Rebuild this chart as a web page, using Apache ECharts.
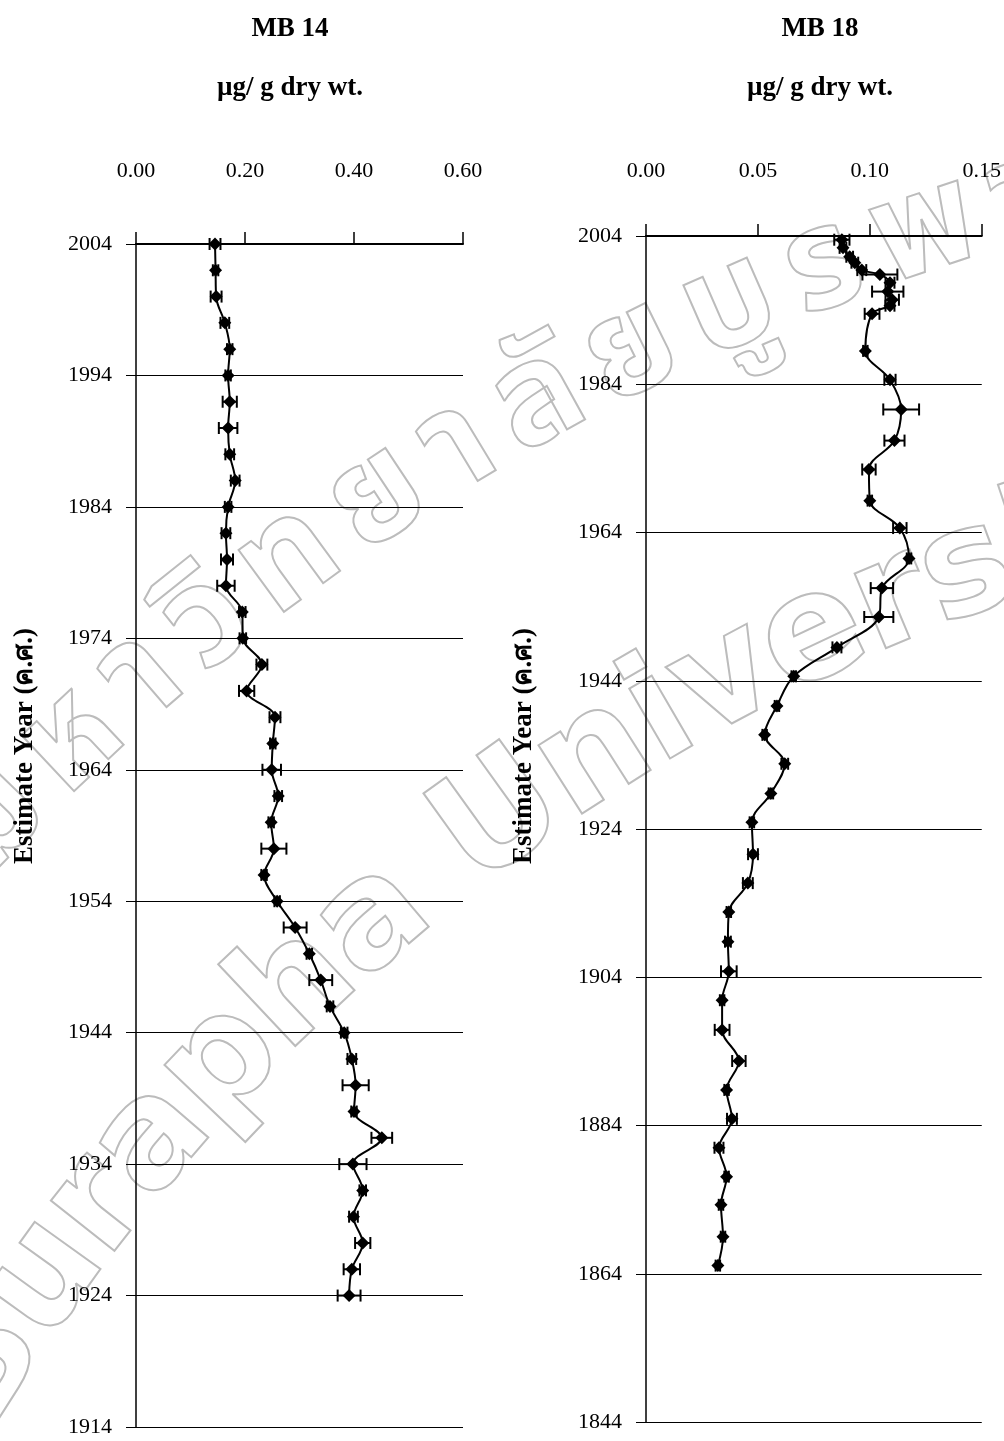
<!DOCTYPE html>
<html><head><meta charset="utf-8">
<script src="https://cdn.jsdelivr.net/npm/echarts@6/dist/echarts.min.js"></script>
<style>html,body{margin:0;padding:0;background:#fff}#c{width:1004px;height:1441px}</style>
</head><body><div id="c"></div>
<script>
// ---------- MB 14 ----------
const mb14Years = [2004,2002,2000,1998,1996,1994,1992,1990,1988,1986,1984,1982,1980,1978,1976,1974,1972,1970,1968,1966,1964,1962,1960,1958,1956,1954,1952,1950,1948,1946,1944,1942,1940,1938,1936,1934,1932,1930,1928,1926,1924];
const mb14Values = [0.145,0.146,0.147,0.163,0.172,0.169,0.172,0.169,0.172,0.182,0.169,0.165,0.167,0.165,0.195,0.196,0.231,0.203,0.255,0.251,0.249,0.261,0.248,0.253,0.235,0.259,0.292,0.318,0.339,0.356,0.382,0.396,0.403,0.400,0.451,0.398,0.416,0.399,0.416,0.396,0.391];
const mb14Errors = [0.010,0.005,0.010,0.008,0.005,0.005,0.013,0.017,0.008,0.008,0.006,0.008,0.011,0.016,0.006,0.006,0.010,0.014,0.010,0.005,0.017,0.007,0.005,0.023,0.005,0.005,0.021,0.005,0.021,0.006,0.006,0.008,0.024,0.005,0.019,0.025,0.006,0.008,0.014,0.015,0.021];
const mb14XTicks = [0, 0.2, 0.4, 0.6];
const mb14YearTicks = [1914,1924,1934,1944,1954,1964,1974,1984,1994,2004];

// ---------- MB 18 ----------
const mb18Years = [2003.5,2002.4,2001.2,2000.4,1999.4,1998.8,1997.7,1996.5,1995.4,1994.6,1993.5,1988.5,1984.6,1980.6,1976.4,1972.5,1968.3,1964.6,1960.5,1956.5,1952.6,1948.5,1944.6,1940.6,1936.7,1932.8,1928.8,1924.9,1920.6,1916.7,1912.8,1908.8,1904.8,1900.9,1896.9,1892.7,1888.8,1884.9,1881.0,1877.1,1873.3,1869.0,1865.1];
const mb18Values = [0.0875,0.0880,0.0910,0.0933,0.0964,0.1045,0.1090,0.1080,0.1100,0.1090,0.1010,0.0980,0.1090,0.1140,0.1110,0.0996,0.1000,0.1134,0.1175,0.1054,0.1040,0.0853,0.0660,0.0585,0.0530,0.0620,0.0558,0.0473,0.0478,0.0455,0.0370,0.0366,0.0370,0.0340,0.0340,0.0415,0.0360,0.0384,0.0326,0.0360,0.0335,0.0344,0.0321];
const mb18Errors = [0.0034,0.0015,0.0015,0.0015,0.0020,0.0078,0.0020,0.0070,0.0030,0.0020,0.0033,0.0010,0.0025,0.0080,0.0045,0.0030,0.0010,0.0030,0.0010,0.0050,0.0065,0.0020,0.0010,0.0010,0.0010,0.0015,0.0010,0.0010,0.0022,0.0022,0.0010,0.0013,0.0035,0.0010,0.0033,0.0030,0.0010,0.0022,0.0020,0.0010,0.0010,0.0010,0.0010];
const mb18XTicks = [0, 0.05, 0.10, 0.15];
const mb18YearTicks = [1844,1864,1884,1904,1924,1944,1964,1984,2004];

const panelTitles = ['MB 14', 'MB 18'];
const unitLabel = 'µg/ g dry wt.';
const yAxisTitle = 'Estimate Year (ค.ศ.)';
// scanned-page watermark (outlined, along an arc)
const watermarkThai = ['ม','ห','า','วิ','ท','ย','า','ลั','ย','บู','ร','พ','า'];
const watermarkLatin = 'Burapha University'.split('');

const SERIF = '"Liberation Serif","Times New Roman",serif';

function errRender(params, api) {
  const y = api.value(1);
  const v = api.value(0), e = api.value(2);
  const lo = api.coord([v - e, y]);
  const hi = api.coord([v + e, y]);
  const cap = 6;
  const style = {stroke: '#000', lineWidth: 2, fill: null};
  return {type: 'group', children: [
    {type: 'line', shape: {x1: lo[0], y1: lo[1], x2: hi[0], y2: hi[1]}, style: style},
    {type: 'line', shape: {x1: lo[0], y1: lo[1] - cap, x2: lo[0], y2: lo[1] + cap}, style: style},
    {type: 'line', shape: {x1: hi[0], y1: hi[1] - cap, x2: hi[0], y2: hi[1] + cap}, style: style}
  ]};
}

function xAxisFor(idx, ticks, margin) {
  return {
    type: 'value', gridIndex: idx, position: 'top',
    min: ticks[0], max: ticks[ticks.length - 1], interval: ticks[1] - ticks[0],
    axisLine: {show: true, onZero: false, lineStyle: {color: '#000', width: 2}},
    axisTick: {show: true, inside: false, length: 12, lineStyle: {color: '#000', width: 1.5}},
    axisLabel: {margin: margin, fontFamily: SERIF, fontSize: 22, color: '#000',
      formatter: function (v) { return v.toFixed(2); }},
    splitLine: {show: false}
  };
}
function yAxisFor(idx, ticks) {
  return {
    type: 'value', gridIndex: idx,
    min: ticks[0], max: ticks[ticks.length - 1],
    axisLine: {show: true, onZero: false, lineStyle: {color: '#000', width: 1.5}},
    axisTick: {show: true, length: 10, customValues: ticks, lineStyle: {color: '#000', width: 1}},
    axisLabel: {margin: 24, fontFamily: SERIF, fontSize: 22, color: '#000', customValues: ticks,
      formatter: function (v) { return String(Math.round(v)); }},
    splitLine: {show: true, lineStyle: {color: '#000', width: 1}}
  };
}

const zip = (a, b) => a.map((v, i) => [v, b[i]]);
const zip3 = (a, b, c) => a.map((v, i) => [v, b[i], c[i]]);

// watermark placement along a circular arc
const measureCtx = document.createElement('canvas').getContext('2d');
function arcText(chars, cx, cy, R, startDeg, font, gap) {
  measureCtx.font = font;
  let s = 0;
  const out = [];
  chars.forEach(function (ch) {
    const w = measureCtx.measureText(ch).width + gap;
    const th = startDeg * Math.PI / 180 + (s + w / 2) / R;
    s += w;
    if (ch === ' ') return;
    out.push({
      type: 'text', z: -10, silent: true,
      x: cx + R * Math.cos(th), y: cy + R * Math.sin(th),
      rotation: -(th + Math.PI / 2),
      style: {text: ch, font: font, fill: 'rgba(0,0,0,0)', stroke: '#bcbcbc', lineWidth: 2,
        align: 'center', verticalAlign: 'middle'}
    });
  });
  return out;
}
const WM_CX = 1665, WM_CY = 2441;
const watermark = [].concat(
  arcText(watermarkLatin, WM_CX, WM_CY, 1993, -149.1, 'bold 148px "DejaVu Sans", sans-serif', 0),
  arcText(watermarkThai, WM_CX, WM_CY, 2320, -137.2, 'bold 140px "Noto Sans Thai", "Noto Sans", sans-serif', 20)
);

const TITLE_FONT = 'bold 27px ' + SERIF;

const option = {
  backgroundColor: '#fff',
  animation: false,
  grid: [
    {left: 136, top: 244, width: 327, height: 1183},
    {left: 646, top: 236, width: 336, height: 1186}
  ],
  xAxis: [xAxisFor(0, mb14XTicks, 62), xAxisFor(1, mb18XTicks, 54)],
  yAxis: [yAxisFor(0, mb14YearTicks), yAxisFor(1, mb18YearTicks)],
  series: [
    {type: 'custom', xAxisIndex: 0, yAxisIndex: 0, renderItem: errRender,
      encode: {x: 0, y: 1}, data: zip3(mb14Values, mb14Years, mb14Errors), z: 3},
    {type: 'line', xAxisIndex: 0, yAxisIndex: 0, data: zip(mb14Values, mb14Years),
      smooth: 0.35, symbol: 'diamond', symbolSize: 13, itemStyle: {color: '#000'},
      lineStyle: {color: '#000', width: 2}, z: 4},
    {type: 'custom', xAxisIndex: 1, yAxisIndex: 1, renderItem: errRender,
      encode: {x: 0, y: 1}, data: zip3(mb18Values, mb18Years, mb18Errors), z: 3},
    {type: 'line', xAxisIndex: 1, yAxisIndex: 1, data: zip(mb18Values, mb18Years),
      smooth: 0.35, symbol: 'diamond', symbolSize: 13, itemStyle: {color: '#000'},
      lineStyle: {color: '#000', width: 2}, z: 4}
  ],
  graphic: watermark.concat([
    {type: 'text', x: 290, y: 29, style: {text: panelTitles[0], font: TITLE_FONT, fill: '#000', align: 'center', verticalAlign: 'middle'}},
    {type: 'text', x: 290, y: 88, style: {text: unitLabel, font: TITLE_FONT, fill: '#000', align: 'center', verticalAlign: 'middle'}},
    {type: 'text', x: 820, y: 29, style: {text: panelTitles[1], font: TITLE_FONT, fill: '#000', align: 'center', verticalAlign: 'middle'}},
    {type: 'text', x: 820, y: 88, style: {text: unitLabel, font: TITLE_FONT, fill: '#000', align: 'center', verticalAlign: 'middle'}},
    {type: 'text', x: 25, y: 746, rotation: Math.PI / 2, style: {text: yAxisTitle, font: TITLE_FONT, fill: '#000', align: 'center', verticalAlign: 'middle'}},
    {type: 'text', x: 524, y: 746, rotation: Math.PI / 2, style: {text: yAxisTitle, font: TITLE_FONT, fill: '#000', align: 'center', verticalAlign: 'middle'}}
  ])
};

const chart = echarts.init(document.getElementById('c'), null, {renderer: 'canvas'});
chart.setOption(option);
</script>
</body></html>
